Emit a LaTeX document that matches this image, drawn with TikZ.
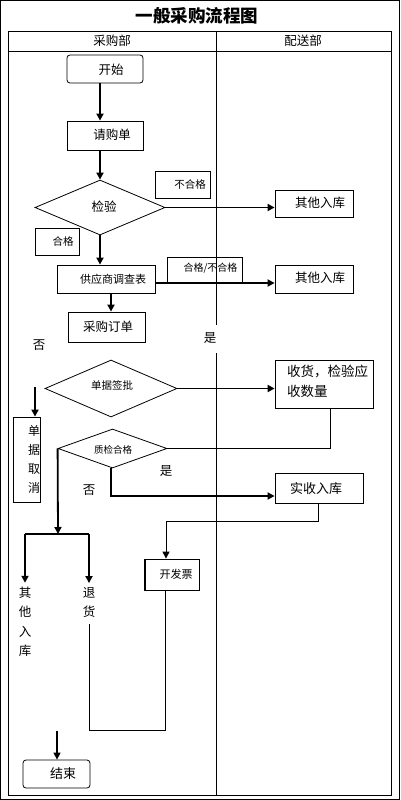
\documentclass[tikz,border=0pt]{standalone}
\usepackage{fontspec}
\setmainfont{Noto Sans CJK SC}
\usetikzlibrary{arrows.meta,shapes.geometric}
\begin{document}
\begin{tikzpicture}[x=1pt,y=-1pt,
  every node/.style={inner sep=0pt, font=\fontsize{12.5}{15}\selectfont},
  box/.style={draw, line width=0.8pt, inner sep=0pt},
  rbox/.style={box, rounded corners=3pt},
  dia/.style={draw, diamond, line width=0.8pt, inner sep=0pt},
  small/.style={font=\fontsize{10.5}{12}\selectfont},
  arr/.style={line width=1.8pt, -{Triangle[length=7pt,width=7pt]}},
  thinarr/.style={line width=1pt, -{Triangle[length=7pt,width=7pt]}},
  thin/.style={line width=0.9pt},
  frame/.style={line width=0.9pt}
]
\useasboundingbox (0,0) rectangle (400,800);
% frames
\draw[frame] (0.5,0.5) rectangle (399.5,799.5);
\draw[frame] (8.5,31.5) rectangle (391,795.5);
\draw[frame] (8.5,51) -- (391,51);
\draw[frame] (216,31.5) -- (216,325);
\draw[frame] (216,353) -- (216,795.5);
% title and headers
\node[font=\fontsize{17.5}{20}\selectfont\bfseries] (title) at (197,16) {一般采购流程图};
\node (h1) at (112,41) {采购部};
\node (h2) at (303,41) {配送部};

% boxes
\node[rbox, minimum width=76pt, minimum height=28pt] (start) at (105,69) {};
\node (startT) at (111,70) {开始};
\node[box, minimum width=76pt, minimum height=29pt] (req) at (105,135.5) {};
\node (reqT) at (112,135) {请购单};
\node[dia, minimum width=130pt, minimum height=55pt] (chk) at (100,207.5) {};
\node (chkT) at (104,207) {检验};
\node[box, minimum width=55pt, minimum height=27pt] (ng) at (182.5,184.5) {};
\node[small] (ngT) at (190,184) {不合格};
\node[box, minimum width=78pt, minimum height=27pt] (qt1) at (314,203.5) {};
\node (qt1T) at (320,203) {其他入库};
\node[box, minimum width=44pt, minimum height=27pt] (ok) at (57,241.5) {};
\node[small] (okT) at (63,241) {合格};
\node[box, minimum width=98pt, minimum height=28pt] (gys) at (106,279) {};
\node[font=\fontsize{11}{13}\selectfont] (gysT) at (113,279) {供应商调查表};
\node[box, minimum width=75pt, minimum height=26pt] (okng) at (204.5,270) {};
\node[font=\fontsize{10}{12}\selectfont] (okngT) at (210.5,268) {合格/不合格};
\node[box, minimum width=78pt, minimum height=28pt] (qt2) at (314,279) {};
\node (qt2T) at (320,278) {其他入库};
\node[box, minimum width=77pt, minimum height=30pt] (po) at (106.5,327) {};
\node (poT) at (108,327) {采购订单};
\node (no1) at (39,345) {否};
\node (yes1) at (210,338) {是};
\node[dia, minimum width=132pt, minimum height=57pt] (sign) at (111,388.5) {};
\node[small] (signT) at (112,385) {单据签批};
\node[box, minimum width=98pt, minimum height=48pt] (recv) at (324,384) {};
\node[font=\fontsize{13.5}{20}\selectfont, align=left, anchor=north west] (recvT) at (287,365) {收货，检验应\\收数量};
\node[dia, minimum width=109pt, minimum height=39pt] (qc) at (112.5,448.5) {};
\node[font=\fontsize{9.5}{11}\selectfont] (qcT) at (113,450) {质检合格};
\node (yes2) at (166,471) {是};
\node (no2) at (89,490) {否};
\node[box, minimum width=88pt, minimum height=30pt] (store) at (319,488) {};
\node[font=\fontsize{13}{15}\selectfont] (storeT) at (316,489) {实收入库};
\node[box, minimum width=54pt, minimum height=31pt] (inv) at (172,574.5) {};
\draw[line width=1.6pt] (inv.north west) |- (inv.south east);
\node[font=\fontsize{11}{13}\selectfont] (invT) at (176,574) {开发票};
\node[box, minimum width=27pt, minimum height=85pt] (cancel) at (26.5,459.5) {};
\node[font=\fontsize{12}{19}\selectfont, align=center] (cancelT) at (34,459.5) {单\\据\\取\\消};
\node[font=\fontsize{12.5}{19.5}\selectfont, align=center] (oth) at (25,622) {其\\他\\入\\库};
\node[font=\fontsize{12.5}{19.5}\selectfont, align=center] (ret) at (89,602.5) {退\\货};
\node[rbox, minimum width=67pt, minimum height=28pt] (end) at (56.5,774) {};
\node[font=\fontsize{13}{15}\selectfont] (endT) at (63,774) {结束};

% connectors
\draw[arr] ([xshift=-5pt]start.south) -- ([xshift=-5pt]req.north);
\draw[arr] ([xshift=-5pt]req.south) -- (chk.north);
\draw[arr] (chk.east) -- (chk.east -| qt1.west);
\draw[arr] (chk.south) -- (chk.south |- gys.north);
\draw[arr] ([yshift=-4pt]gys.east) -- ([yshift=-4pt]gys.east -| qt2.west);
\draw[arr] ([xshift=5pt]gys.south) -- ([xshift=5pt]gys.south |- po.north);
\draw[arr] (sign.east) -- (sign.east -| recv.west);
\draw[thin] ([xshift=6pt]recv.south) |- (qc.east);
\draw[arr] ([xshift=-1.5pt]qc.south) |- ([yshift=-8pt]store.west);
\draw[thinarr] ([xshift=-1pt]store.south) -- ++(0,18) -| ([xshift=-6pt]inv.north);
\draw[thin] ([xshift=-7pt]inv.south) -- ++(0,140) -| ([yshift=-6pt]ret.south);
\coordinate (cs) at (35,387);
\draw[arr] (cs) -- (cs |- cancel.north);
\coordinate (split) at (58,534);
\draw[arr] (qc.west) -- (split);
\draw[line width=1.3pt] (oth.north |- split) -- (ret.north |- split);
\draw[arr] (oth.north |- split) -- ([yshift=4pt]oth.north);
\draw[arr] (ret.north |- split) -- ([yshift=4pt]ret.north);
\coordinate (es) at (57,731);
\draw[line width=1.3pt, -{Triangle[length=7pt,width=7pt]}] (es) -- (es |- end.north);
\end{tikzpicture}
\end{document}
